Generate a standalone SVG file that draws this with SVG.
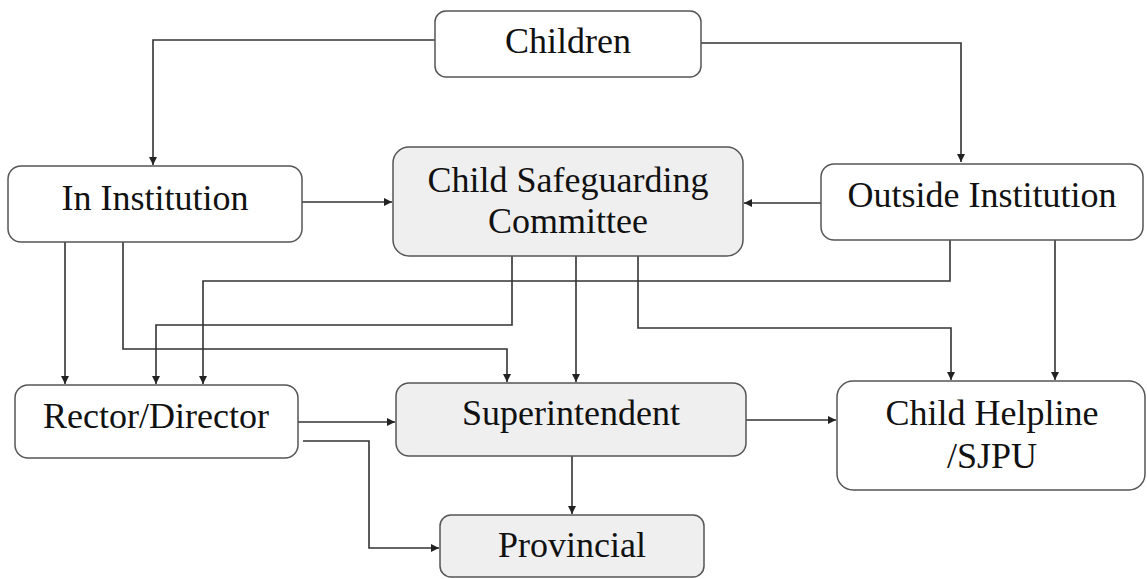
<svg xmlns="http://www.w3.org/2000/svg" width="1147" height="579" viewBox="0 0 1147 579">
<defs>
<marker id="ah" viewBox="0 0 10 10" refX="10" refY="5" markerWidth="8" markerHeight="8" markerUnits="userSpaceOnUse" orient="auto">
<path d="M0,0 L10,5 L0,10 z" fill="#222"/>
</marker>
</defs>
<style>
.box{fill:#ffffff;stroke:#555;stroke-width:1.5}
.gray{fill:#efefef}
.t{font-family:"Liberation Serif","Times New Roman",serif;font-size:36px;fill:#111;text-anchor:middle}
.c{fill:none;stroke:#333;stroke-width:1.6}
.a{marker-end:url(#ah)}
</style>
<rect width="1147" height="579" fill="#fff"/>
<g id="connectors">
<polyline class="c a" points="435,40 153,40 153,165"/>
<polyline class="c a" points="701,43 961,43 961,162"/>
<line class="c a" x1="302" y1="202" x2="392" y2="202"/>
<line class="c a" x1="821" y1="203" x2="744" y2="203"/>
<polyline class="c a" points="950,240 950,281 203,281 203,384"/>
<line class="c a" x1="1055" y1="240" x2="1055" y2="380"/>
<polyline class="c a" points="512,256 512,325 156,325 156,384"/>
<line class="c a" x1="576" y1="256" x2="576" y2="382"/>
<polyline class="c a" points="638,256 638,328 951,328 951,380"/>
<line class="c a" x1="65" y1="242" x2="65" y2="384"/>
<polyline class="c a" points="123,242 123,349 507,349 507,382"/>
<line class="c a" x1="298" y1="422" x2="395" y2="422"/>
<polyline class="c a" points="303,441 369,441 369,548 439,548"/>
<line class="c a" x1="572" y1="456" x2="572" y2="514"/>
<line class="c a" x1="746" y1="420" x2="836" y2="420"/>
</g>
<g id="children">
<rect class="box" x="435" y="11" width="266" height="66" rx="11"/>
<text class="t" x="568" y="53">Children</text>
</g>
<g id="in-institution">
<rect class="box" x="8" y="166" width="294" height="76" rx="13"/>
<text class="t" x="155" y="210">In Institution</text>
</g>
<g id="csc">
<rect class="box gray" x="393" y="147" width="350" height="109" rx="16"/>
<text class="t" x="568" y="192">Child Safeguarding</text>
<text class="t" x="568" y="233">Committee</text>
</g>
<g id="outside-institution">
<rect class="box" x="821" y="164" width="322" height="76" rx="13"/>
<text class="t" x="982" y="207">Outside Institution</text>
</g>
<g id="rector">
<rect class="box" x="15" y="385" width="283" height="73" rx="13"/>
<text class="t" x="156" y="428">Rector/Director</text>
</g>
<g id="superintendent">
<rect class="box gray" x="396" y="383" width="350" height="73" rx="13"/>
<text class="t" x="571" y="425">Superintendent</text>
</g>
<g id="provincial">
<rect class="box gray" x="440" y="515" width="264" height="62" rx="11"/>
<text class="t" x="572" y="557">Provincial</text>
</g>
<g id="child-helpline">
<rect class="box" x="837" y="381" width="308" height="109" rx="16"/>
<text class="t" x="992" y="425">Child Helpline</text>
<text class="t" x="992" y="468">/SJPU</text>
</g>
</svg>
